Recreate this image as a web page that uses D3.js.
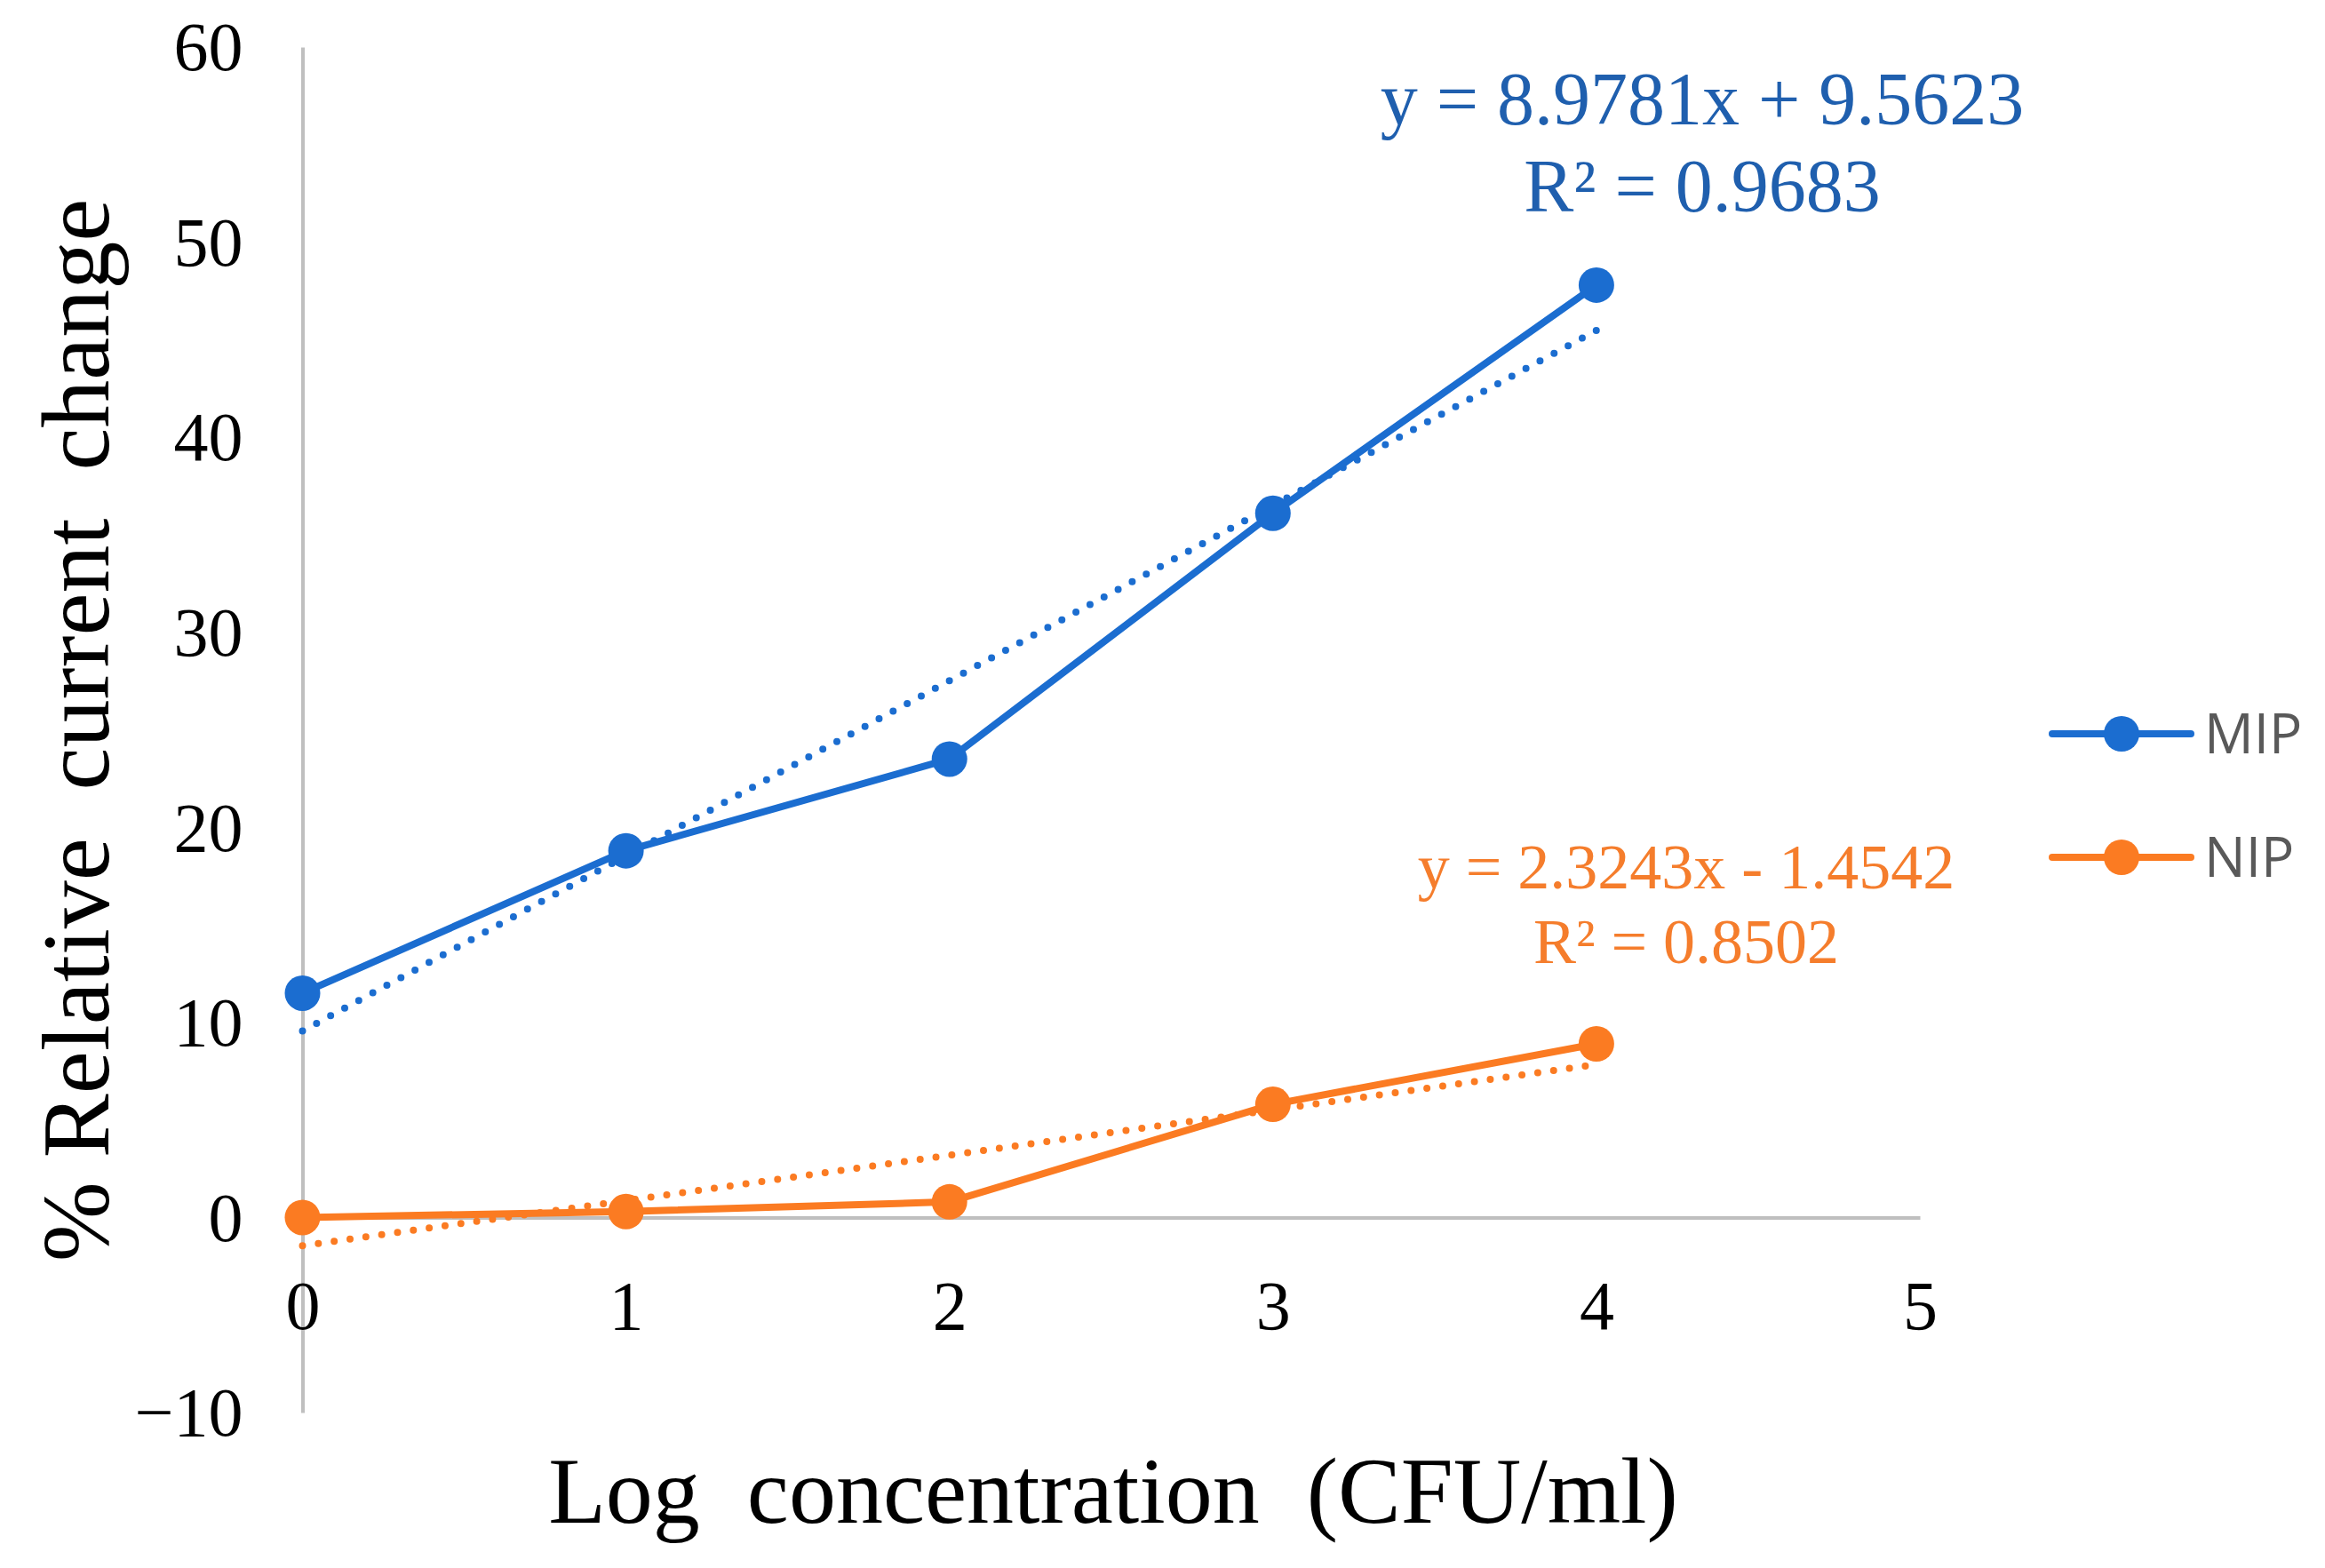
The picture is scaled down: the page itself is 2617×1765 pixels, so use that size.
<!DOCTYPE html>
<html>
<head>
<meta charset="utf-8">
<script src="https://cdn.jsdelivr.net/npm/d3@7"></script>
<style>
  html, body { margin: 0; padding: 0; background: #ffffff; }
  svg { display: block; }
</style>
</head>
<body>
<script>
// ---- data ----
const xValues = [0, 1, 2, 3, 4];
const mipValues = [11.5, 18.8, 23.5, 36.1, 47.8];
const nipValues = [0.0, 0.3, 0.8, 5.8, 8.9];
const seriesNames = ["MIP", "NIP"];
const trendSlopes = [8.9781, 2.3243];
const trendIntercepts = [9.5623, -1.4542];
const equationLines = [
  ["y = 8.9781x + 9.5623", "R\u00B2 = 0.9683"],
  ["y = 2.3243x - 1.4542", "R\u00B2 = 0.8502"]
];
const xTicks = [0, 1, 2, 3, 4, 5];
const yTicks = [-10, 0, 10, 20, 30, 40, 50, 60];
const xTitle = "Log  concentration  (CFU/ml)";
const yTitle = "% Relative  current  change";

// ---- layout ----
const W = 2617, H = 1765;
const colors = ["#1b6dd0", "#fb7b22"];
const textColors = ["#1f5fae", "#f57d2c"];

const svg = d3.select("body").append("svg").attr("width", W).attr("height", H);

const x = d3.scaleLinear().domain([0, 5]).range([340.5, 2161]);
const y = d3.scaleLinear().domain([-10, 60]).range([1590, 53]);

const serif = "'Liberation Serif', 'Times New Roman', serif";

// y axis
const yAxis = svg.append("g")
  .attr("transform", `translate(${x(0)},0)`)
  .call(d3.axisLeft(y).tickValues(yTicks).tickSize(0).tickSizeOuter(0).tickPadding(67)
    .tickFormat(d => d < 0 ? "\u2212" + Math.abs(d) : String(d)));
yAxis.select(".domain").attr("stroke", "#bfbfbf").attr("stroke-width", 4);
yAxis.selectAll("text").attr("font-family", serif).attr("font-size", 78).attr("fill", "#000").attr("dy", "0.33em");

// x axis at y=0
const xAxis = svg.append("g")
  .attr("transform", `translate(0,${y(0)})`)
  .call(d3.axisBottom(x).tickValues(xTicks).tickSize(0).tickSizeOuter(0).tickPadding(70).tickFormat(d3.format("d")));
xAxis.select(".domain").attr("stroke", "#bfbfbf").attr("stroke-width", 4);
xAxis.selectAll("text").attr("font-family", serif).attr("font-size", 78).attr("fill", "#000");

// titles
svg.append("text")
  .attr("x", 1253).attr("y", 1714)
  .attr("text-anchor", "middle")
  .attr("font-family", serif).attr("font-size", 106)
  .style("white-space", "pre")
  .text(xTitle);

svg.append("text")
  .attr("transform", "translate(122,822) rotate(-90)")
  .attr("text-anchor", "middle")
  .attr("font-family", serif).attr("font-size", 108)
  .style("white-space", "pre")
  .text(yTitle);

const allSeries = [mipValues, nipValues];

// trendlines (dotted)
allSeries.forEach((vals, i) => {
  const x0 = xValues[0], x1 = xValues[xValues.length - 1];
  svg.append("line")
    .attr("x1", x(x0)).attr("y1", y(trendSlopes[i] * x0 + trendIntercepts[i]))
    .attr("x2", x(x1)).attr("y2", y(trendSlopes[i] * x1 + trendIntercepts[i]))
    .attr("stroke", colors[i]).attr("stroke-width", 8)
    .attr("stroke-linecap", "round")
    .attr("stroke-dasharray", "0 18");
});

// series lines and markers
const line = d3.line().x((d, j) => x(xValues[j])).y(d => y(d));
allSeries.forEach((vals, i) => {
  svg.append("path")
    .attr("d", line(vals))
    .attr("fill", "none")
    .attr("stroke", colors[i]).attr("stroke-width", 8)
    .attr("stroke-linejoin", "round");
  svg.append("g").selectAll("circle").data(vals).join("circle")
    .attr("cx", (d, j) => x(xValues[j]))
    .attr("cy", d => y(d))
    .attr("r", 20)
    .attr("fill", colors[i]);
});

// equations
const eqPos = [
  {cx: 1916, y1: 140, y2: 238, size: 84},
  {cx: 1898, y1: 1000, y2: 1084, size: 72}
];
equationLines.forEach((lines, i) => {
  const p = eqPos[i];
  svg.append("text").attr("x", p.cx).attr("y", p.y1).attr("text-anchor", "middle")
    .attr("font-family", serif).attr("font-size", p.size).attr("fill", textColors[i]).text(lines[0]);
  svg.append("text").attr("x", p.cx).attr("y", p.y2).attr("text-anchor", "middle")
    .attr("font-family", serif).attr("font-size", p.size).attr("fill", textColors[i]).text(lines[1]);
});

// legend
const legendY = [826, 965];
seriesNames.forEach((name, i) => {
  const g = svg.append("g");
  g.append("line").attr("x1", 2310).attr("x2", 2466).attr("y1", legendY[i]).attr("y2", legendY[i])
    .attr("stroke", colors[i]).attr("stroke-width", 8).attr("stroke-linecap", "round");
  g.append("circle").attr("cx", 2388).attr("cy", legendY[i]).attr("r", 20).attr("fill", colors[i]);
  g.append("text").attr("x", 2481).attr("y", legendY[i]).attr("dy", "0.36em")
    .attr("font-family", "'Open Sans', 'Liberation Sans', sans-serif").attr("font-size", 62)
    .attr("fill", "#595959").text(name);
});
</script>
</body>
</html>
